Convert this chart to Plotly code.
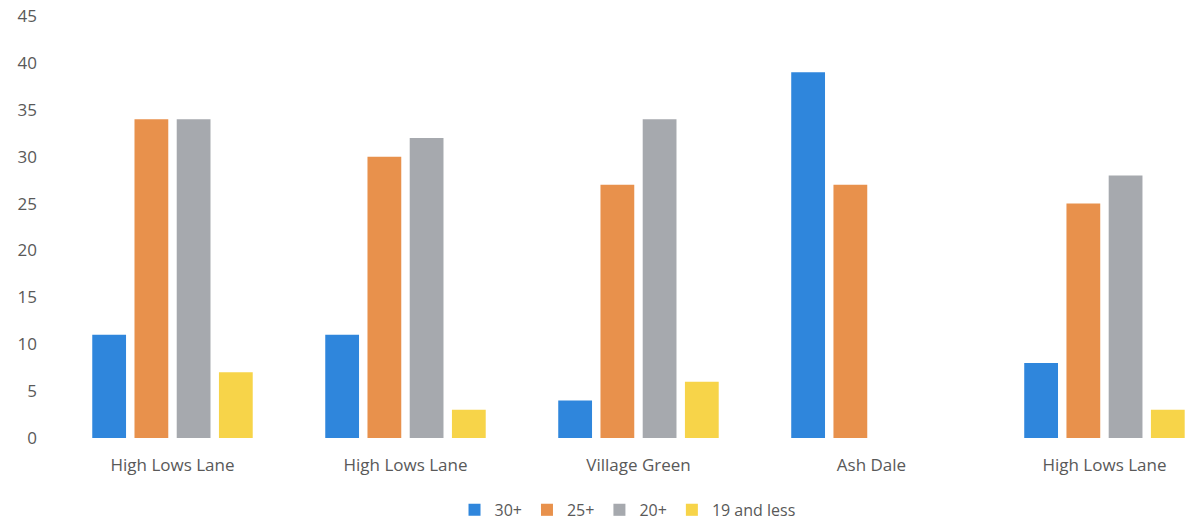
import plotly.graph_objects as go

# Sites (the same site name appears more than once, so bars are placed by index)
sites = ["High Lows Lane", "High Lows Lane", "Village Green", "Ash Dale", "High Lows Lane"]
positions = list(range(len(sites)))

# Counts per age band
age_30_plus = [11, 11, 4, 39, 8]
age_25_plus = [34, 30, 27, 27, 25]
age_20_plus = [34, 32, 34, None, 28]
age_19_less = [7, 3, 6, None, 3]

series = [
    ("30+", age_30_plus, "#2f86dc"),
    ("25+", age_25_plus, "#e8914c"),
    ("20+", age_20_plus, "#a6a9ae"),
    ("19 and less", age_19_less, "#f7d449"),
]

y_ticks = [0, 5, 10, 15, 20, 25, 30, 35, 40, 45]

fig = go.Figure()
for name, values, color in series:
    fig.add_trace(go.Bar(
        x=positions,
        y=values,
        name=name,
        marker=dict(color=color, line=dict(width=0)),
    ))

font_family = "Open Sans, Liberation Sans, sans-serif"

fig.update_layout(
    width=1193,
    height=523,
    barmode="group",
    bargap=0.275,
    bargroupgap=0.2,
    plot_bgcolor="white",
    paper_bgcolor="white",
    margin=dict(l=56, r=0, t=16, b=85),
    font=dict(family=font_family, color="#595959"),
    showlegend=True,
    legend=dict(
        orientation="h",
        xref="container",
        yref="container",
        x=0.526,
        y=0.025,
        xanchor="center",
        yanchor="middle",
        font=dict(size=16, color="#595959"),
        itemwidth=30,
        traceorder="normal",
    ),
    xaxis=dict(
        range=[-0.5, 4.38],
        tickmode="array",
        tickvals=positions,
        ticktext=sites,
        showgrid=False,
        zeroline=False,
        showline=False,
        ticks="",
        ticklabelstandoff=15,
        tickfont=dict(size=17, color="#595959"),
    ),
    yaxis=dict(
        range=[0, 45],
        tickmode="array",
        tickvals=y_ticks,
        showgrid=False,
        zeroline=False,
        showline=False,
        ticks="",
        ticklabelstandoff=18,
        tickfont=dict(size=17, color="#595959"),
    ),
)

fig.write_html("out.html")
